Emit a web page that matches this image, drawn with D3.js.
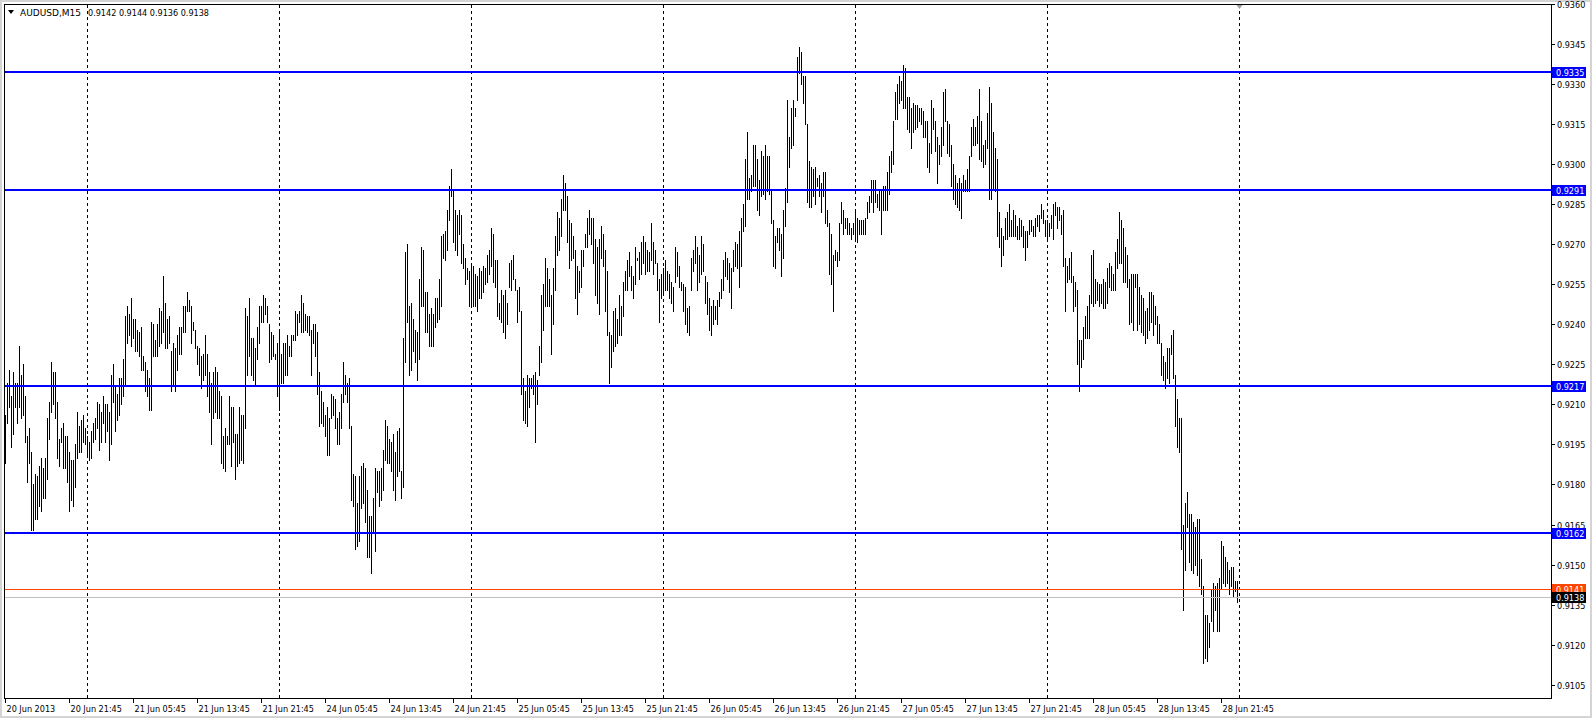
<!DOCTYPE html>
<html><head><meta charset="utf-8">
<script src="https://cdn.jsdelivr.net/npm/d3@7"></script>
<style>
html,body{margin:0;padding:0;background:#fff;overflow:hidden;}
svg{display:block;}
text{font-family:"DejaVu Sans Condensed","DejaVu Sans",sans-serif;font-stretch:condensed;font-size:9px;}
text.sym{font-family:"DejaVu Sans",sans-serif;font-stretch:normal;}
</style></head><body>
<svg id="c" width="1592" height="718"></svg>
<script>
// ---------- DATA ----------
const symbol = "AUDUSD,M15";
const lastOHLC = [0.9142, 0.9144, 0.9136, 0.9138];
const sessionDays = ["2013-06-20 13:45","2013-06-21 00:00","2013-06-24 00:00","2013-06-25 00:00","2013-06-26 00:00","2013-06-27 00:00","2013-06-28 00:00"];

const high20 = [0.9206,0.9218,0.9223,0.9213,0.9222,0.9218,0.9218,0.9232,0.9221,0.9225,0.9213,0.9198,0.9201,0.9192,0.9180,0.9184,0.9183,0.9187,0.9190,0.9186,0.9190,0.9205,0.9211,0.9226,0.9222,0.9222,0.9211,0.9197,0.9201,0.9203,0.9198,0.9198,0.9192,0.9189,0.9189,0.9195,0.9207,0.9202,0.9204,0.9206,0.9201];
const low20  = [0.9188,0.9203,0.9209,0.9194,0.9199,0.9209,0.9203,0.9209,0.9205,0.9206,0.9196,0.9181,0.9188,0.9163,0.9163,0.9167,0.9167,0.9172,0.9170,0.9175,0.9175,0.9182,0.9197,0.9207,0.9210,0.9205,0.9190,0.9187,0.9196,0.9186,0.9186,0.9181,0.9170,0.9174,0.9172,0.9179,0.9190,0.9192,0.9192,0.9196,0.9195];

const high21 = [0.9198,0.9196,0.9200,0.9203,0.9205,0.9211,0.9210,0.9207,0.9213,0.9210,0.9210,0.9207,0.9221,0.9225,0.9217,0.9214,0.9220,0.9220,0.9227,0.9243,0.9247,0.9244,0.9250,0.9242,0.9242,0.9238,0.9237,0.9239,0.9228,0.9226,0.9223,0.9220,0.9241,0.9240,0.9234,0.9240,0.9246,0.9245,0.9258,0.9248,0.9242,0.9243,0.9230,0.9233,0.9231,0.9236,0.9239,0.9239,0.9247,0.9247,0.9252,0.9249,0.9247,0.9241,0.9238,0.9232,0.9231,0.9228,0.9229,0.9236,0.9229,0.9222,0.9218,0.9222,0.9224,0.9222,0.9215,0.9213,0.9198,0.9201,0.9198,0.9213,0.9209,0.9209,0.9199,0.9199,0.9209,0.9206,0.9206,0.9246,0.9243,0.9250,0.9235,0.9235,0.9231,0.9239,0.9247,0.9247,0.9251,0.9250,0.9247,0.9240,0.9237,0.9236,0.9229,0.9233];
const low21  = [0.9191,0.9189,0.9190,0.9196,0.9197,0.9201,0.9193,0.9196,0.9203,0.9196,0.9200,0.9189,0.9195,0.9211,0.9200,0.9204,0.9206,0.9210,0.9213,0.9217,0.9233,0.9236,0.9232,0.9235,0.9230,0.9230,0.9228,0.9223,0.9223,0.9215,0.9213,0.9208,0.9208,0.9228,0.9228,0.9228,0.9232,0.9233,0.9237,0.9231,0.9231,0.9233,0.9215,0.9217,0.9215,0.9223,0.9229,0.9229,0.9237,0.9237,0.9245,0.9245,0.9233,0.9238,0.9231,0.9225,0.9221,0.9216,0.9219,0.9221,0.9213,0.9207,0.9195,0.9205,0.9207,0.9205,0.9205,0.9188,0.9186,0.9185,0.9195,0.9195,0.9187,0.9196,0.9182,0.9187,0.9188,0.9189,0.9188,0.9201,0.9221,0.9228,0.9221,0.9219,0.9217,0.9227,0.9233,0.9241,0.9241,0.9244,0.9241,0.9226,0.9227,0.9228,0.9227,0.9213];

const high24 = [0.9237,0.9229,0.9233,0.9233,0.9236,0.9232,0.9236,0.9236,0.9245,0.9244,0.9245,0.9251,0.9248,0.9244,0.9243,0.9243,0.9238,0.9240,0.9240,0.9237,0.9222,0.9215,0.9211,0.9206,0.9209,0.9205,0.9214,0.9213,0.9212,0.9205,0.9207,0.9214,0.9226,0.9221,0.9218,0.9220,0.9202,0.9184,0.9183,0.9173,0.9183,0.9187,0.9188,0.9186,0.9178,0.9168,0.9168,0.9175,0.9186,0.9185,0.9185,0.9186,0.9193,0.9204,0.9202,0.9197,0.9196,0.9199,0.9192,0.9200,0.9201,0.9185,0.9235,0.9267,0.9270,0.9247,0.9248,0.9242,0.9238,0.9237,0.9257,0.9269,0.9268,0.9252,0.9252,0.9244,0.9246,0.9244,0.9250,0.9250,0.9257,0.9273,0.9274,0.9275,0.9283,0.9292,0.9298,0.9290,0.9283,0.9281,0.9283,0.9281,0.9270,0.9265,0.9261,0.9260];
const low24  = [0.9208,0.9218,0.9218,0.9221,0.9221,0.9228,0.9228,0.9234,0.9234,0.9236,0.9241,0.9237,0.9237,0.9238,0.9237,0.9236,0.9221,0.9233,0.9228,0.9214,0.9202,0.9203,0.9202,0.9198,0.9191,0.9191,0.9205,0.9206,0.9201,0.9195,0.9195,0.9201,0.9211,0.9214,0.9211,0.9201,0.9174,0.9172,0.9156,0.9157,0.9159,0.9171,0.9173,0.9166,0.9153,0.9153,0.9147,0.9162,0.9155,0.9177,0.9172,0.9174,0.9178,0.9189,0.9188,0.9188,0.9185,0.9178,0.9174,0.9183,0.9185,0.9175,0.9179,0.9226,0.9241,0.9221,0.9223,0.9230,0.9226,0.9219,0.9227,0.9247,0.9247,0.9237,0.9237,0.9232,0.9232,0.9232,0.9239,0.9241,0.9242,0.9247,0.9265,0.9264,0.9268,0.9279,0.9288,0.9271,0.9268,0.9266,0.9274,0.9263,0.9261,0.9255,0.9257,0.9247];

const high25 = [0.9262,0.9262,0.9259,0.9258,0.9261,0.9260,0.9262,0.9261,0.9266,0.9268,0.9276,0.9274,0.9264,0.9264,0.9248,0.9253,0.9251,0.9253,0.9248,0.9263,0.9264,0.9266,0.9257,0.9253,0.9254,0.9245,0.9220,0.9215,0.9221,0.9220,0.9220,0.9221,0.9222,0.9219,0.9232,0.9251,0.9255,0.9265,0.9261,0.9257,0.9251,0.9261,0.9273,0.9282,0.9280,0.9287,0.9296,0.9293,0.9288,0.9279,0.9278,0.9273,0.9268,0.9262,0.9260,0.9268,0.9268,0.9274,0.9280,0.9283,0.9280,0.9280,0.9272,0.9269,0.9272,0.9277,0.9274,0.9268,0.9260,0.9237,0.9236,0.9245,0.9246,0.9242,0.9251,0.9247,0.9256,0.9260,0.9264,0.9267,0.9262,0.9258,0.9269,0.9265,0.9267,0.9271,0.9273,0.9271,0.9268,0.9267,0.9278,0.9271,0.9268,0.9263,0.9257,0.9259];
const low25  = [0.9247,0.9247,0.9247,0.9245,0.9250,0.9250,0.9252,0.9255,0.9256,0.9259,0.9262,0.9256,0.9254,0.9243,0.9242,0.9241,0.9237,0.9235,0.9240,0.9254,0.9253,0.9257,0.9253,0.9241,0.9245,0.9214,0.9204,0.9203,0.9202,0.9209,0.9216,0.9214,0.9196,0.9210,0.9221,0.9226,0.9238,0.9247,0.9247,0.9247,0.9229,0.9240,0.9253,0.9266,0.9268,0.9273,0.9283,0.9283,0.9271,0.9261,0.9264,0.9265,0.9250,0.9244,0.9252,0.9254,0.9262,0.9269,0.9269,0.9274,0.9270,0.9263,0.9251,0.9248,0.9244,0.9265,0.9262,0.9245,0.9236,0.9218,0.9224,0.9230,0.9232,0.9233,0.9236,0.9236,0.9243,0.9253,0.9253,0.9258,0.9253,0.9250,0.9255,0.9264,0.9257,0.9259,0.9263,0.9259,0.9260,0.9260,0.9264,0.9259,0.9263,0.9253,0.9241,0.9250];

const high26 = [0.9261,0.9264,0.9260,0.9259,0.9256,0.9254,0.9269,0.9267,0.9262,0.9256,0.9255,0.9254,0.9246,0.9247,0.9265,0.9268,0.9273,0.9269,0.9266,0.9273,0.9270,0.9258,0.9256,0.9250,0.9247,0.9249,0.9247,0.9249,0.9252,0.9257,0.9264,0.9267,0.9265,0.9263,0.9261,0.9268,0.9271,0.9270,0.9275,0.9280,0.9285,0.9302,0.9312,0.9295,0.9296,0.9307,0.9307,0.9302,0.9294,0.9305,0.9303,0.9307,0.9303,0.9303,0.9290,0.9279,0.9273,0.9276,0.9276,0.9274,0.9283,0.9291,0.9324,0.9310,0.9321,0.9324,0.9321,0.9340,0.9344,0.9342,0.9333,0.9333,0.9315,0.9301,0.9299,0.9298,0.9299,0.9295,0.9296,0.9293,0.9297,0.9297,0.9283,0.9278,0.9274,0.9266,0.9268,0.9267,0.9278,0.9286,0.9283,0.9280,0.9280,0.9278,0.9276,0.9278];
const low26  = [0.9252,0.9253,0.9253,0.9250,0.9248,0.9245,0.9256,0.9258,0.9254,0.9253,0.9245,0.9240,0.9237,0.9236,0.9253,0.9260,0.9263,0.9253,0.9256,0.9259,0.9260,0.9248,0.9244,0.9238,0.9236,0.9240,0.9242,0.9240,0.9247,0.9250,0.9253,0.9258,0.9257,0.9252,0.9246,0.9260,0.9262,0.9261,0.9254,0.9262,0.9275,0.9277,0.9287,0.9287,0.9290,0.9292,0.9292,0.9283,0.9281,0.9288,0.9289,0.9287,0.9290,0.9289,0.9278,0.9262,0.9261,0.9271,0.9268,0.9258,0.9265,0.9277,0.9286,0.9299,0.9306,0.9307,0.9318,0.9324,0.9334,0.9330,0.9323,0.9315,0.9286,0.9284,0.9284,0.9288,0.9285,0.9292,0.9288,0.9282,0.9288,0.9278,0.9277,0.9259,0.9255,0.9245,0.9264,0.9262,0.9264,0.9278,0.9274,0.9276,0.9274,0.9274,0.9272,0.9274];

const high27 = [0.9282,0.9280,0.9279,0.9279,0.9279,0.9280,0.9286,0.9288,0.9294,0.9294,0.9294,0.9289,0.9290,0.9290,0.9292,0.9292,0.9297,0.9303,0.9305,0.9316,0.9327,0.9330,0.9333,0.9331,0.9337,0.9336,0.9325,0.9325,0.9321,0.9323,0.9322,0.9322,0.9321,0.9321,0.9320,0.9316,0.9316,0.9308,0.9324,0.9321,0.9316,0.9310,0.9307,0.9314,0.9327,0.9328,0.9316,0.9315,0.9307,0.9300,0.9296,0.9293,0.9295,0.9293,0.9296,0.9294,0.9298,0.9303,0.9314,0.9317,0.9314,0.9318,0.9328,0.9316,0.9307,0.9309,0.9319,0.9329,0.9323,0.9312,0.9306,0.9302,0.9282,0.9276,0.9273,0.9280,0.9282,0.9285,0.9279,0.9283,0.9281,0.9277,0.9280,0.9279,0.9277,0.9275,0.9275,0.9279,0.9279,0.9277,0.9280,0.9281,0.9281,0.9285,0.9283,0.9279];
const low27  = [0.9272,0.9271,0.9274,0.9274,0.9274,0.9274,0.9280,0.9282,0.9286,0.9282,0.9286,0.9284,0.9283,0.9274,0.9283,0.9283,0.9283,0.9289,0.9297,0.9300,0.9317,0.9317,0.9323,0.9324,0.9321,0.9321,0.9313,0.9312,0.9306,0.9312,0.9313,0.9314,0.9316,0.9315,0.9310,0.9310,0.9299,0.9297,0.9304,0.9313,0.9305,0.9293,0.9300,0.9303,0.9307,0.9316,0.9304,0.9303,0.9292,0.9287,0.9285,0.9284,0.9283,0.9280,0.9290,0.9290,0.9290,0.9290,0.9303,0.9307,0.9307,0.9308,0.9302,0.9301,0.9299,0.9300,0.9306,0.9287,0.9287,0.9291,0.9290,0.9273,0.9269,0.9262,0.9266,0.9272,0.9272,0.9273,0.9273,0.9273,0.9273,0.9272,0.9272,0.9273,0.9269,0.9264,0.9269,0.9274,0.9275,0.9273,0.9273,0.9277,0.9275,0.9280,0.9278,0.9273];

const high28 = [0.9279,0.9278,0.9281,0.9285,0.9286,0.9284,0.9284,0.9281,0.9283,0.9265,0.9262,0.9265,0.9267,0.9258,0.9256,0.9253,0.9234,0.9234,0.9239,0.9243,0.9247,0.9251,0.9266,0.9268,0.9257,0.9256,0.9255,0.9255,0.9257,0.9256,0.9261,0.9263,0.9262,0.9259,0.9267,0.9272,0.9282,0.9279,0.9276,0.9269,0.9266,0.9257,0.9259,0.9259,0.9259,0.9259,0.9254,0.9251,0.9250,0.9245,0.9246,0.9252,0.9252,0.9251,0.9247,0.9243,0.9240,0.9233,0.9228,0.9226,0.9231,0.9231,0.9236,0.9238,0.9221,0.9212,0.9205,0.9205,0.9165,0.9173,0.9177,0.9169,0.9169,0.9166,0.9164,0.9167,0.9167,0.9152,0.9142,0.9131,0.9131,0.9128,0.9141,0.9143,0.9142,0.9143,0.9145,0.9159,0.9157,0.9153,0.9151,0.9148,0.9149,0.9149,0.9144,0.9144];
const low28  = [0.9272,0.9273,0.9276,0.9272,0.9281,0.9276,0.9279,0.9274,0.9262,0.9245,0.9256,0.9257,0.9256,0.9245,0.9247,0.9225,0.9215,0.9224,0.9227,0.9235,0.9235,0.9235,0.9248,0.9247,0.9248,0.9249,0.9247,0.9248,0.9246,0.9246,0.9248,0.9254,0.9253,0.9253,0.9253,0.9261,0.9263,0.9263,0.9256,0.9256,0.9254,0.9240,0.9241,0.9238,0.9254,0.9238,0.9240,0.9237,0.9236,0.9233,0.9235,0.9238,0.9241,0.9236,0.9240,0.9233,0.9233,0.9221,0.9219,0.9216,0.9220,0.9218,0.9229,0.9220,0.9202,0.9194,0.9192,0.9156,0.9133,0.9148,0.9164,0.9151,0.9148,0.9147,0.9150,0.9146,0.9142,0.9139,0.9113,0.9115,0.9114,0.9119,0.9129,0.9125,0.9133,0.9125,0.9125,0.9141,0.9143,0.9142,0.9143,0.9139,0.9142,0.9138,0.9140,0.9136];

const priceTicks = [0.9105,0.9120,0.9135,0.9150,0.9165,0.9180,0.9195,0.9210,0.9225,0.9240,0.9255,0.9270,0.9285,0.9300,0.9315,0.9330,0.9345,0.9360];
const levelValues = [0.93345, 0.92905, 0.9217, 0.9162];
const levelLabels = ["0.9335", "0.9291", "0.9217", "0.9162"];
const markValue = 0.9141;      // orange-red horizontal line
const bidValue = 0.9138;       // bid line

// ---------- BUILD ----------
const highs = [high20, high21, high24, high25, high26, high27, high28];
const lows  = [low20, low21, low24, low25, low26, low27, low28];
const parseT = d3.utcParse("%Y-%m-%d %H:%M");
const bars = [];
sessionDays.forEach((s, d) => {
  const t0 = parseT(s);
  highs[d].forEach((h, k) => bars.push({ t: d3.utcMinute.offset(t0, 15 * k), h: h, l: lows[d][k], day: d, first: k === 0 }));
});

const W = 1592, H = 718;
const svg = d3.select("#c");
const x = d3.scaleLinear().domain([0, 773]).range([5.5, 1551.5]);
const y = d3.scaleLinear().domain([0.9100, 0.9360]).range([698, 4]);

svg.append("rect").attr("width", W).attr("height", H).attr("fill", "#fff");
svg.append("rect").attr("x", 1).attr("y", 1).attr("width", W - 2).attr("height", H - 2)
  .attr("fill", "none").attr("stroke", "#d4d4d4").attr("stroke-width", 2);

const g = svg.append("g").attr("shape-rendering", "crispEdges");

// period separators
const sepIdx = bars.map((b, i) => (i > 0 && b.first) ? i : -1).filter(i => i >= 0).concat([bars.length]);
g.selectAll("line.sep").data(sepIdx).join("line").attr("class", "sep")
  .attr("x1", d => x(d)).attr("x2", d => x(d)).attr("y1", 5).attr("y2", 698)
  .attr("stroke", "#000").attr("stroke-width", 1).attr("stroke-dasharray", "3,3");

// bars (high-low)
g.selectAll("line.bar").data(bars).join("line").attr("class", "bar")
  .attr("x1", (d, i) => x(i)).attr("x2", (d, i) => x(i))
  .attr("y1", d => Math.round(y(d.h)))
  .attr("y2", d => Math.round(y(d.l)) + 1)
  .attr("stroke", "#000").attr("stroke-width", 1);

// horizontal level lines
g.selectAll("line.lvl").data(levelValues).join("line").attr("class", "lvl")
  .attr("x1", 5).attr("x2", 1551).attr("y1", d => Math.round(y(d))).attr("y2", d => Math.round(y(d)))
  .attr("stroke", "#0000ff").attr("stroke-width", 2);

g.append("line").attr("x1", 5).attr("x2", 1551).attr("y1", Math.round(y(markValue)) + 0.5).attr("y2", Math.round(y(markValue)) + 0.5)
  .attr("stroke", "#ff4500").attr("stroke-width", 1);
g.append("line").attr("x1", 5).attr("x2", 1551).attr("y1", Math.round(y(bidValue)) + 0.5).attr("y2", Math.round(y(bidValue)) + 0.5)
  .attr("stroke", "#c0c0c0").attr("stroke-width", 1);

g.append("rect").attr("x", 4.5).attr("y", 4.5).attr("width", 1547).attr("height", 694)
  .attr("fill", "none").attr("stroke", "#000").attr("stroke-width", 1);

// price axis
const fmt = d3.format(".4f");
priceTicks.forEach(v => {
  const yy = Math.round(y(v)) + 0.5;
  g.append("line").attr("x1", 1552).attr("x2", 1555).attr("y1", yy).attr("y2", yy).attr("stroke", "#000");
  svg.append("text").attr("x", 1557).attr("y", yy + 3.5).attr("fill", "#000").text(fmt(v));
});

// time axis
const fFirst = d3.utcFormat("%d %b %Y"), fOther = d3.utcFormat("%d %b %H:%M");
d3.range(0, bars.length, 32).forEach((i, k) => {
  const xx = x(i);
  g.append("line").attr("x1", xx).attr("x2", xx).attr("y1", 699).attr("y2", 703).attr("stroke", "#000");
  svg.append("text").attr("x", xx + 1).attr("y", 711.5).attr("fill", "#000").text(k === 0 ? fFirst(bars[i].t) : fOther(bars[i].t));
});

// price label boxes
function box(v, label, fill, fg) {
  const yy = Math.round(y(v));
  svg.append("rect").attr("x", 1552).attr("y", yy - 5).attr("width", 34).attr("height", 11).attr("fill", fill);
  svg.append("text").attr("x", 1556).attr("y", yy + 3.5).attr("fill", fg).text(label);
}
levelValues.forEach((v, i) => box(v, levelLabels[i], "#0000ff", "#fff"));
box(markValue, fmt(markValue), "#ff4500", "#fff");
box(bidValue, fmt(bidValue), "#000", "#fff");

// header
svg.append("path").attr("d", "M8,10 L14,10 L11,14 Z").attr("fill", "#000");
svg.append("text").attr("class", "sym").attr("x", 20).attr("y", 16).attr("fill", "#000").text(symbol);
svg.append("text").attr("x", 88).attr("y", 16).attr("fill", "#000").text(lastOHLC.map(fmt).join(" "));

// chart shift marker
svg.append("path").attr("d", `M${x(bars.length) - 3},5 L${x(bars.length) + 3},5 L${x(bars.length)},9 Z`).attr("fill", "#a0a0a0");
</script>
</body></html>
